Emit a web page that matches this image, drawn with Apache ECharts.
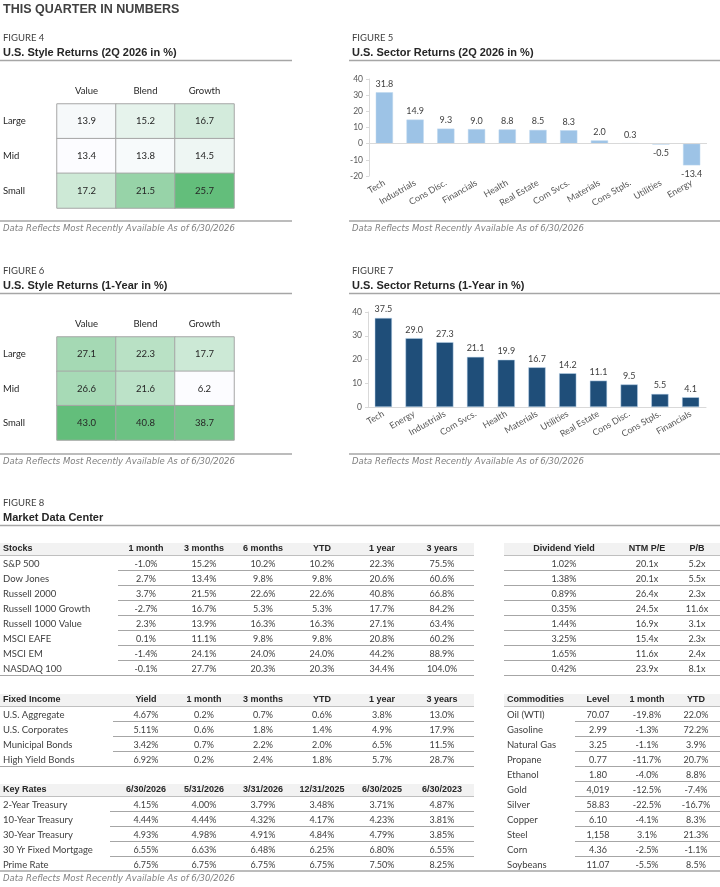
<!DOCTYPE html>
<html>
<head>
<meta charset="utf-8">
<title>This Quarter in Numbers</title>
<script src="https://cdn.jsdelivr.net/npm/echarts@6/dist/echarts.min.js"></script>
<style>
  body { margin: 0; background: #fff; }
  #chart { width: 720px; height: 887px; }
</style>
</head>
<body>
<div id="chart"></div>
<script>
// ---- data ----
const styleCols = ['Value', 'Blend', 'Growth'];
const styleRows = ['Large', 'Mid', 'Small'];
const style2Q = [[13.9, 15.2, 16.7], [13.4, 13.8, 14.5], [17.2, 21.5, 25.7]];
const style1Y = [[27.1, 22.3, 17.7], [26.6, 21.6, 6.2], [43.0, 40.8, 38.7]];

const sector2QNames = ['Tech', 'Industrials', 'Cons Disc.', 'Financials', 'Health', 'Real Estate', 'Com Svcs.', 'Materials', 'Cons Stpls.', 'Utilities', 'Energy'];
const sector2Q = [31.8, 14.9, 9.3, 9.0, 8.8, 8.5, 8.3, 2.0, 0.3, -0.5, -13.4];
const sector1YNames = ['Tech', 'Energy', 'Industrials', 'Com Svcs.', 'Health', 'Materials', 'Utilities', 'Real Estate', 'Cons Disc.', 'Cons Stpls.', 'Financials'];
const sector1Y = [37.5, 29.0, 27.3, 21.1, 19.9, 16.7, 14.2, 11.1, 9.5, 5.5, 4.1];

const stockNames = ['S&P 500', 'Dow Jones', 'Russell 2000', 'Russell 1000 Growth', 'Russell 1000 Value', 'MSCI EAFE', 'MSCI EM', 'NASDAQ 100'];
const stockHeads = ['1 month', '3 months', '6 months', 'YTD', '1 year', '3 years'];
const stockData = [
  ['-1.0%', '15.2%', '10.2%', '10.2%', '22.3%', '75.5%'],
  ['2.7%', '13.4%', '9.8%', '9.8%', '20.6%', '60.6%'],
  ['3.7%', '21.5%', '22.6%', '22.6%', '40.8%', '66.8%'],
  ['-2.7%', '16.7%', '5.3%', '5.3%', '17.7%', '84.2%'],
  ['2.3%', '13.9%', '16.3%', '16.3%', '27.1%', '63.4%'],
  ['0.1%', '11.1%', '9.8%', '9.8%', '20.8%', '60.2%'],
  ['-1.4%', '24.1%', '24.0%', '24.0%', '44.2%', '88.9%'],
  ['-0.1%', '27.7%', '20.3%', '20.3%', '34.4%', '104.0%']
];
const valHeads = ['Dividend Yield', 'NTM P/E', 'P/B'];
const valData = [
  ['1.02%', '20.1x', '5.2x'], ['1.38%', '20.1x', '5.5x'], ['0.89%', '26.4x', '2.3x'], ['0.35%', '24.5x', '11.6x'],
  ['1.44%', '16.9x', '3.1x'], ['3.25%', '15.4x', '2.3x'], ['1.65%', '11.6x', '2.4x'], ['0.42%', '23.9x', '8.1x']
];
const fiNames = ['U.S. Aggregate', 'U.S. Corporates', 'Municipal Bonds', 'High Yield Bonds'];
const fiHeads = ['Yield', '1 month', '3 months', 'YTD', '1 year', '3 years'];
const fiData = [
  ['4.67%', '0.2%', '0.7%', '0.6%', '3.8%', '13.0%'],
  ['5.11%', '0.6%', '1.8%', '1.4%', '4.9%', '17.9%'],
  ['3.42%', '0.7%', '2.2%', '2.0%', '6.5%', '11.5%'],
  ['6.92%', '0.2%', '2.4%', '1.8%', '5.7%', '28.7%']
];
const comNames = ['Oil (WTI)', 'Gasoline', 'Natural Gas', 'Propane', 'Ethanol', 'Gold', 'Silver', 'Copper', 'Steel', 'Corn', 'Soybeans'];
const comHeads = ['Level', '1 month', 'YTD'];
const comData = [
  ['70.07', '-19.8%', '22.0%'], ['2.99', '-1.3%', '72.2%'], ['3.25', '-1.1%', '3.9%'], ['0.77', '-11.7%', '20.7%'],
  ['1.80', '-4.0%', '8.8%'], ['4,019', '-12.5%', '-7.4%'], ['58.83', '-22.5%', '-16.7%'], ['6.10', '-4.1%', '8.3%'],
  ['1,158', '3.1%', '21.3%'], ['4.36', '-2.5%', '-1.1%'], ['11.07', '-5.5%', '8.5%']
];
const rateNames = ['2-Year Treasury', '10-Year Treasury', '30-Year Treasury', '30 Yr Fixed Mortgage', 'Prime Rate'];
const rateHeads = ['6/30/2026', '5/31/2026', '3/31/2026', '12/31/2025', '6/30/2025', '6/30/2023'];
const rateData = [
  ['4.15%', '4.00%', '3.79%', '3.48%', '3.71%', '4.87%'],
  ['4.44%', '4.44%', '4.32%', '4.17%', '4.23%', '3.81%'],
  ['4.93%', '4.98%', '4.91%', '4.84%', '4.79%', '3.85%'],
  ['6.55%', '6.63%', '6.48%', '6.25%', '6.80%', '6.55%'],
  ['6.75%', '6.75%', '6.75%', '6.75%', '7.50%', '8.25%']
];
const footNote = 'Data Reflects Most Recently Available As of 6/30/2026';

// ---- styles ----
const BODY = 'Lato, "Open Sans", sans-serif';
const WIDE = '"DejaVu Sans", sans-serif';
const BOLD = '"Liberation Sans", Arial, sans-serif';
const GRID_LINE = '#A6A6A6';
const leftCols = [146, 204, 263, 322, 382, 442];

let els = [];
function txt(x, y, s, o) {
  o = o || {};
  els.push({
    type: 'text', x: x, y: y, silent: true,
    style: {
      text: s, fill: o.color || '#404040', align: o.align || 'left', verticalAlign: 'middle',
      fontSize: o.size || 9, fontFamily: o.family || BODY, fontWeight: o.weight || 'normal',
      fontStyle: o.italic ? 'italic' : 'normal'
    }
  });
}
function hline(x1, x2, y, color, w) {
  els.push({ type: 'line', silent: true, shape: { x1: x1, y1: y, x2: x2, y2: y }, style: { stroke: color || GRID_LINE, lineWidth: w || 1 } });
}
function band(x1, x2, y) {
  els.push({ type: 'rect', silent: true, shape: { x: x1, y: y - 6, width: x2 - x1, height: 12 }, style: { fill: '#F2F2F2' } });
  hline(x1, x2, y + 6.5, '#BFBFBF', 1);
}
function figHead(x, y, num, title, x2) {
  txt(x, y, 'FIGURE ' + num, { size: 9.5, color: '#404040' });
  txt(x, y + 15, title, { size: 11, weight: 'bold', family: BOLD, color: '#262626' });
  hline(x - 3, x2, y + 22.5, GRID_LINE, 1.5);
}
function foot(x, y, x2) {
  hline(x - 3, x2, y, GRID_LINE, 1.5);
  txt(x, y + 8, footNote, { size: 8.5, italic: true, family: WIDE, color: '#7F7F7F' });
}
// generic table: header band, rows of 15px, thin rule under each row
function table(o) {
  band(o.x0, o.x1, o.y);
  if (o.title) txt(o.nameX, o.y, o.title, { weight: 'bold', family: BOLD, size: 9, color: '#262626' });
  o.heads.forEach((h, j) => txt(o.cols[j], o.y, h, { align: 'center', weight: 'bold', family: BOLD, size: 9, color: '#262626' }));
  o.rows.forEach((r, i) => {
    const y = o.y + 15 * (i + 1);
    if (o.names) txt(o.nameX, y, o.names[i], { size: 9.5 });
    r.forEach((v, j) => txt(o.cols[j], y, v, { align: 'center', size: 9 }));
    const last = i === o.rows.length - 1;
    if (last && o.noLast) return;
    hline(last ? o.x0 : o.lineFrom, o.x1, y + 6.5);
  });
}

// page header
txt(3, 10, 'THIS QUARTER IN NUMBERS', { size: 12.5, weight: 'bold', family: BOLD, color: '#404040' });
figHead(3, 38, 4, 'U.S. Style Returns (2Q 2026 in %)', 292);
figHead(352, 38, 5, 'U.S. Sector Returns (2Q 2026 in %)', 720);
foot(3, 221, 292); foot(352, 221, 720);
figHead(3, 271, 6, 'U.S. Style Returns (1-Year in %)', 292);
figHead(352, 271, 7, 'U.S. Sector Returns (1-Year in %)', 720);
foot(3, 454, 292); foot(352, 454, 720);
figHead(3, 503, 8, 'Market Data Center', 720);

table({ x0: 0, x1: 474, y: 549, title: 'Stocks', nameX: 3, names: stockNames, heads: stockHeads, rows: stockData, cols: leftCols, lineFrom: 118 });
table({ x0: 504, x1: 720, y: 549, heads: valHeads, rows: valData, cols: [564, 647, 697], lineFrom: 504 });
table({ x0: 0, x1: 474, y: 700, title: 'Fixed Income', nameX: 3, names: fiNames, heads: fiHeads, rows: fiData, cols: leftCols, lineFrom: 113 });
table({ x0: 504, x1: 720, y: 700, title: 'Commodities', nameX: 507, names: comNames, heads: comHeads, rows: comData, cols: [598, 647, 696], lineFrom: 575, noLast: true });
table({ x0: 0, x1: 474, y: 790, title: 'Key Rates', nameX: 3, names: rateNames, heads: rateHeads, rows: rateData, cols: leftCols, lineFrom: 110, noLast: true });
hline(0, 720, 871, GRID_LINE, 1.5);
txt(3, 879, footNote, { size: 8.5, italic: true, family: WIDE, color: '#7F7F7F' });

// ---- charts ----
function heatData(m) {
  const d = [];
  m.forEach((row, i) => row.forEach((v, j) => d.push([j, i, v])));
  return d;
}
function flat(m) { return [].concat.apply([], m); }

function heatAxes(gi) {
  return {
    x: {
      type: 'category', gridIndex: gi, data: styleCols, position: 'top',
      axisLine: { show: false }, axisTick: { show: false }, splitArea: { show: false },
      axisLabel: { margin: 8, fontSize: 9.5, color: '#262626', fontFamily: BODY }
    },
    y: {
      type: 'category', gridIndex: gi, data: styleRows, inverse: true,
      axisLine: { show: false }, axisTick: { show: false },
      axisLabel: { margin: 54, align: 'left', fontSize: 9.5, color: '#262626', fontFamily: BODY }
    }
  };
}
const h4 = heatAxes(0), h6 = heatAxes(1);

function barX(gi, names) {
  return {
    type: 'category', gridIndex: gi, data: names,
    axisLine: { show: gi === 3, onZero: false, lineStyle: { color: '#D9D9D9' } },
    axisTick: { show: false },
    axisLabel: { rotate: 30, margin: 6, fontSize: 9, color: '#595959', fontFamily: BODY, interval: 0 }
  };
}
function barY(gi, min, max) {
  return {
    type: 'value', gridIndex: gi, min: min, max: max, interval: 10,
    axisLine: { show: true, lineStyle: { color: '#D9D9D9' } },
    axisTick: { show: true, length: 3, lineStyle: { color: '#D9D9D9' } },
    splitLine: { show: false },
    axisLabel: { margin: 6, fontSize: 8.5, color: '#595959', fontFamily: BODY }
  };
}
function barData(vals) {
  return vals.map(v => ({ value: v, label: { position: v < 0 ? 'bottom' : 'top' } }));
}
const barLabel = { show: true, distance: 4, fontSize: 9, color: '#404040', fontFamily: BODY, formatter: p => p.value.toFixed(1) };

const option = {
  animation: false,
  backgroundColor: '#fff',
  textStyle: { fontFamily: BODY },
  grid: [
    { left: 57, top: 104, width: 177, height: 104 },
    { left: 57, top: 337, width: 177, height: 103 },
    { left: 369, top: 79, width: 338, height: 97 },
    { left: 368, top: 312, width: 338, height: 95 }
  ],
  xAxis: [h4.x, h6.x, barX(2, sector2QNames), barX(3, sector1YNames)],
  yAxis: [h4.y, h6.y, barY(2, -20, 40), barY(3, 0, 40)],
  visualMap: [
    { show: false, seriesIndex: 0, dimension: 2, min: Math.min(...flat(style2Q)), max: Math.max(...flat(style2Q)), inRange: { color: ['#FCFCFF', '#63BE7B'] } },
    { show: false, seriesIndex: 1, dimension: 2, min: Math.min(...flat(style1Y)), max: Math.max(...flat(style1Y)), inRange: { color: ['#FCFCFF', '#63BE7B'] } }
  ],
  series: [
    {
      type: 'heatmap', xAxisIndex: 0, yAxisIndex: 0, data: heatData(style2Q),
      itemStyle: { borderColor: '#A6A6A6', borderWidth: 1 },
      label: { show: true, fontSize: 9.5, color: '#262626', fontFamily: BODY, formatter: p => p.value[2].toFixed(1) }
    },
    {
      type: 'heatmap', xAxisIndex: 1, yAxisIndex: 1, data: heatData(style1Y),
      itemStyle: { borderColor: '#A6A6A6', borderWidth: 1 },
      label: { show: true, fontSize: 9.5, color: '#262626', fontFamily: BODY, formatter: p => p.value[2].toFixed(1) }
    },
    {
      type: 'bar', xAxisIndex: 2, yAxisIndex: 2, data: barData(sector2Q), barWidth: '56%',
      itemStyle: { color: '#9DC3E6', borderColor: '#BDD7EE', borderWidth: 0.5 },
      label: barLabel,
      markLine: { silent: true, symbol: 'none', label: { show: false }, lineStyle: { color: '#D9D9D9', width: 1, type: 'solid' }, data: [{ yAxis: 0 }] }
    },
    {
      type: 'bar', xAxisIndex: 3, yAxisIndex: 3, data: barData(sector1Y), barWidth: '56%',
      itemStyle: { color: '#1F4E79', borderColor: '#BDD7EE', borderWidth: 0.5 },
      label: barLabel
    }
  ],
  graphic: els
};

const chart = echarts.init(document.getElementById('chart'));
chart.setOption(option);
</script>
</body>
</html>
